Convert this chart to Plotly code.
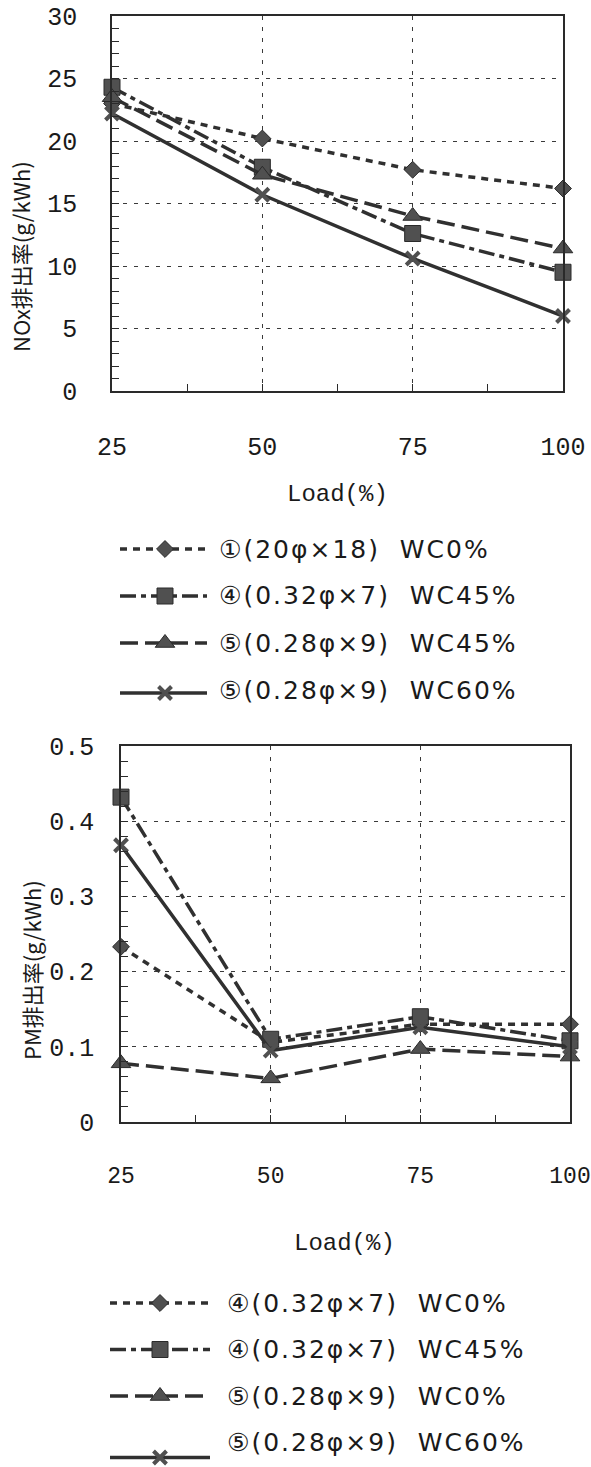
import plotly.graph_objects as go

# ---- data -------------------------------------------------------------
load = [25, 50, 75, 100]

nox_labels = [
    "①(20φ×18)  WC0%",
    "④(0.32φ×7)  WC45%",
    "⑤(0.28φ×9)  WC45%",
    "⑤(0.28φ×9)  WC60%",
]
nox_wc0_20 = [23.0, 20.2, 17.7, 16.2]
nox_wc45_032 = [24.3, 17.9, 12.6, 9.5]
nox_wc45_028 = [23.5, 17.3, 14.0, 11.4]
nox_wc60_028 = [22.2, 15.7, 10.6, 6.0]

pm_labels = [
    "④(0.32φ×7)  WC0%",
    "④(0.32φ×7)  WC45%",
    "⑤(0.28φ×9)  WC0%",
    "⑤(0.28φ×9)  WC60%",
]
pm_wc0_032 = [0.233, 0.106, 0.130, 0.130]
pm_wc45_032 = [0.432, 0.110, 0.140, 0.108]
pm_wc0_028 = [0.078, 0.058, 0.097, 0.087]
pm_wc60_028 = [0.368, 0.095, 0.126, 0.100]

pm_ticks = [0, 0.1, 0.2, 0.3, 0.4, 0.5]
pm_ticktext = ["0", "0.1", "0.2", "0.3", "0.4", "0.5"]

# ---- styles -----------------------------------------------------------
W, H = 591, 1467
LINE_C = "#303030"
MARK_C = "#505050"
TICK_FONT = dict(family="Liberation Mono", size=25, color="#1a1a1a")
CJK_FONT = "Noto Sans CJK JP"
LEGEND_FONT = dict(family="DejaVu Sans, Noto Sans CJK JP", size=25, color="#1a1a1a")

styles = [
    dict(symbol="diamond", size=13, dash="7px,6px", lw=3.5),
    dict(symbol="square", size=16, dash="16px,5px,5px,5px", lw=3.5),
    dict(symbol="triangle-up", size=17, dash="18px,7px", lw=3.5),
    dict(symbol="x-thin", size=13, dash="solid", lw=3.5),
]


def marker_of(st):
    if st["symbol"] == "x-thin":
        return dict(symbol="x-thin", size=st["size"], color=MARK_C,
                    line=dict(color=MARK_C, width=4))
    return dict(symbol=st["symbol"], size=st["size"], color=MARK_C,
                line=dict(color="#2a2a2a", width=1))


def spaced(text):
    # legend captions are set with a little extra tracking
    return '<span style="letter-spacing:2px">' + text + "</span>"


def px_y(p):
    return 1 - p / H


fig = go.Figure()

# ---- chart traces ---------------------------------------------------
nox_series = [nox_wc0_20, nox_wc45_032, nox_wc45_028, nox_wc60_028]
pm_series = [pm_wc0_032, pm_wc45_032, pm_wc0_028, pm_wc60_028]

for vals, st, lab in zip(nox_series, styles, nox_labels):
    fig.add_trace(go.Scatter(
        x=load, y=vals, mode="lines+markers", name=lab, xaxis="x", yaxis="y",
        line=dict(color=LINE_C, width=st["lw"], dash=st["dash"]),
        marker=marker_of(st), cliponaxis=False, showlegend=False))

for vals, st, lab in zip(pm_series, styles, pm_labels):
    fig.add_trace(go.Scatter(
        x=load, y=vals, mode="lines+markers", name=lab, xaxis="x2", yaxis="y2",
        line=dict(color=LINE_C, width=st["lw"], dash=st["dash"]),
        marker=marker_of(st), cliponaxis=False, showlegend=False))

# ---- hand-built legends, each on its own pixel-space axis pair ---------
LEG1 = dict(ax="3", y0=515, y1=720, x0=120, x1=207, xm=165, xt=217, top=549,
            gap=47, line_dy=[0, 0, 0, 3])
LEG2 = dict(ax="4", y0=1270, y1=1467, x0=110, x1=210, xm=160, xt=225, top=1303,
            gap=46.5, line_dy=[0, 0, 0, 15])

for leg, labels in ((LEG1, nox_labels), (LEG2, pm_labels)):
    xa, ya = "x" + leg["ax"], "y" + leg["ax"]
    for i, (st, lab) in enumerate(zip(styles, labels)):
        yt = leg["top"] + i * leg["gap"]
        yl = yt + leg["line_dy"][i]
        fig.add_trace(go.Scatter(
            x=[leg["x0"], leg["x1"]], y=[yl, yl], mode="lines",
            xaxis=xa, yaxis=ya, showlegend=False, hoverinfo="skip",
            line=dict(color=LINE_C, width=st["lw"], dash=st["dash"])))
        fig.add_trace(go.Scatter(
            x=[leg["xm"]], y=[yl], mode="markers", xaxis=xa, yaxis=ya,
            showlegend=False, hoverinfo="skip", marker=marker_of(st),
            cliponaxis=False))
        fig.add_annotation(x=leg["xt"] / W, y=px_y(yt), xref="paper", yref="paper",
                           text=spaced(lab), showarrow=False, xanchor="left",
                           yanchor="middle", font=LEGEND_FONT)

# ---- axes -------------------------------------------------------------
grid = dict(showgrid=True, gridcolor="#3a3a3a", gridwidth=1, griddash="4px,7px")
frame = dict(showline=True, mirror=True, linecolor="#2a2a2a", linewidth=1.5,
             zeroline=False, ticks="inside", ticklen=7,
             tickcolor="#2a2a2a", tickwidth=1, automargin=False,
             ticklabeloverflow="allow")

xcommon = dict(range=[25, 100], tickmode="linear", tick0=25, dtick=25,
               minor=dict(dtick=12.5, tick0=25, ticks="inside", ticklen=7,
                          tickcolor="#2a2a2a", showgrid=False),
               ticklabelstandoff=32, **grid, **frame)

hidden = dict(visible=False, fixedrange=True, showgrid=False, zeroline=False,
              automargin=False)

fig.update_layout(
    width=W, height=H,
    margin=dict(l=0, r=0, t=0, b=0, pad=0, autoexpand=False),
    paper_bgcolor="white", plot_bgcolor="rgba(0,0,0,0)",
    showlegend=False,
    xaxis=dict(domain=[112 / W, 563 / W], anchor="y", tickfont=TICK_FONT,
               **xcommon),
    yaxis=dict(domain=[px_y(391), px_y(16)], anchor="x", range=[0, 30],
               tickmode="linear", tick0=0, dtick=5, tickfont=TICK_FONT,
               minor=dict(dtick=1, ticks="inside", ticklen=7,
                          tickcolor="#2a2a2a", showgrid=False),
               ticklabelstandoff=28, **grid, **frame),
    xaxis2=dict(domain=[121 / W, 570 / W], anchor="y2",
                tickfont=dict(TICK_FONT, size=23), **xcommon),
    yaxis2=dict(domain=[px_y(1122), px_y(746)], anchor="x2", range=[0, 0.5],
                tickmode="array", tickvals=pm_ticks, ticktext=pm_ticktext,
                tickfont=TICK_FONT,
                minor=dict(dtick=0.02, ticks="inside", ticklen=7,
                           tickcolor="#2a2a2a", showgrid=False),
                ticklabelstandoff=20, **grid, **frame),
    xaxis3=dict(domain=[0, 1], range=[0, W], anchor="y3", **hidden),
    yaxis3=dict(domain=[px_y(LEG1["y1"]), px_y(LEG1["y0"])],
                range=[LEG1["y1"], LEG1["y0"]], anchor="x3", **hidden),
    xaxis4=dict(domain=[0, 1], range=[0, W], anchor="y4", **hidden),
    yaxis4=dict(domain=[px_y(LEG2["y1"]), px_y(LEG2["y0"])],
                range=[LEG2["y1"], LEG2["y0"]], anchor="x4", **hidden),
)

# ---- axis titles -------------------------------------------------------
title_font = dict(family="Liberation Mono", size=24, color="#1a1a1a")
ann = dict(xref="paper", yref="paper", showarrow=False, xanchor="center",
           yanchor="middle")
fig.add_annotation(x=337 / W, y=px_y(494), text="Load(%)", font=title_font, **ann)
fig.add_annotation(x=344 / W, y=px_y(1243), text="Load(%)", font=title_font, **ann)
fig.add_annotation(x=20 / W, y=px_y(257), text="NOx排出率(g/kWh)", textangle=-90,
                   font=dict(family=CJK_FONT, size=22, color="#1a1a1a"), **ann)
fig.add_annotation(x=31 / W, y=px_y(970), text="PM排出率(g/kWh)", textangle=-90,
                   font=dict(family=CJK_FONT, size=22, color="#1a1a1a"), **ann)

fig.write_html("out.html")
